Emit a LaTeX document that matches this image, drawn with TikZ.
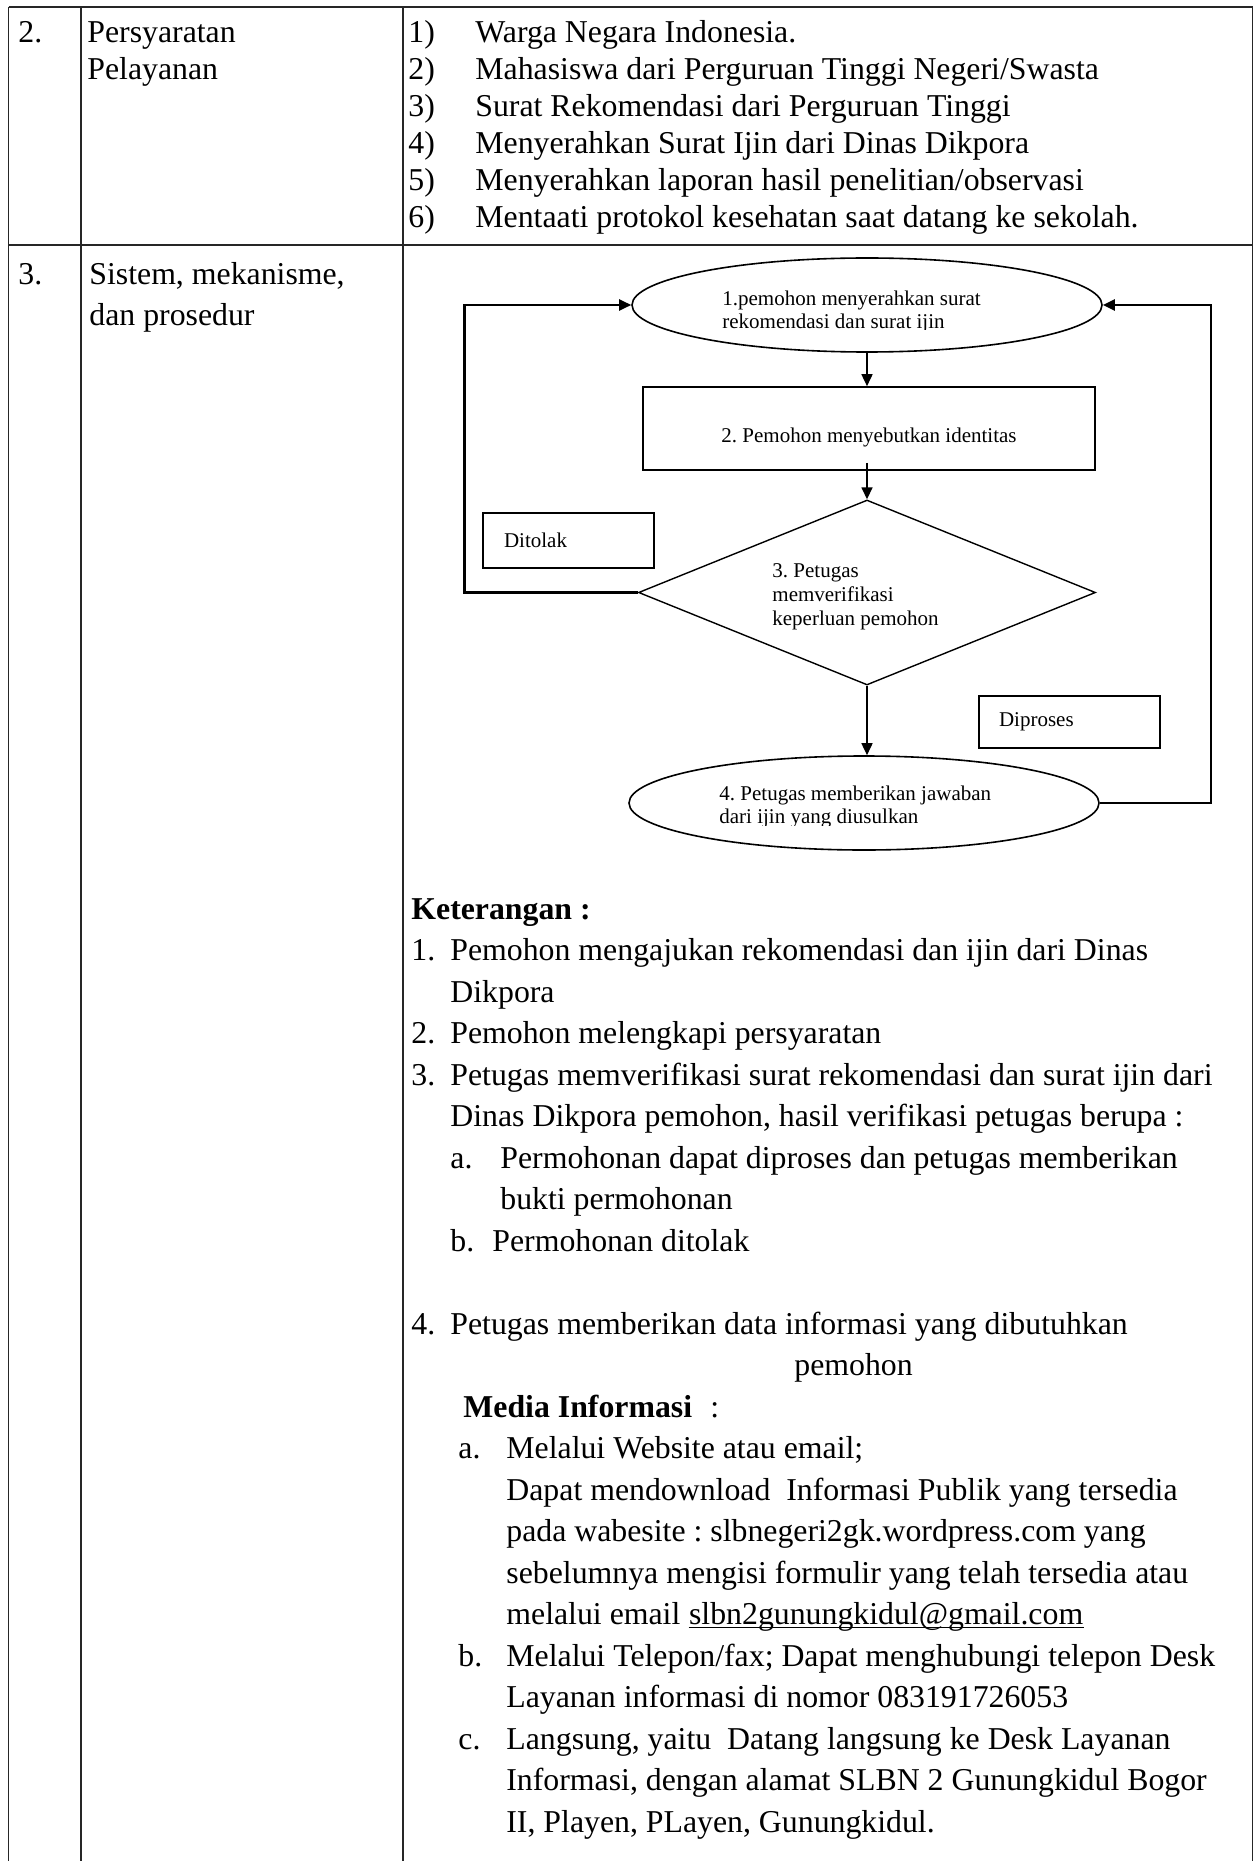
\documentclass[tikz,border=0pt]{standalone}
\usepackage{fontspec}
\setmainfont{Liberation Serif}
\usepackage{tikz}
\usetikzlibrary{shapes.geometric, arrows.meta, positioning}
\frenchspacing

\tikzset{
    garis/.style={line width=0.55pt, black!85},
    teks/.style={anchor=base west, inner sep=0pt, font=\fontsize{15.9}{18}\selectfont},
    kecil/.style={anchor=base west, inner sep=0pt, font=\fontsize{10.5}{12}\selectfont},
    elips/.style={ellipse, draw, line width=0.8pt, minimum width=235pt, minimum height=47pt, inner sep=0pt},
    kotak/.style={rectangle, draw, line width=0.8pt, inner sep=0pt, align=left, font=\fontsize{10.5}{12}\selectfont},
    belah/.style={diamond, draw, line width=0.7pt, minimum width=228.5pt, minimum height=92.5pt, inner sep=0pt},
    panah/.style={-{Triangle[length=6pt,width=5.5pt]}, line width=0.8pt},
    balik/.style={-{Triangle[length=6pt,width=5.5pt]}, line width=1.2pt}
}

\begin{document}
\begin{tikzpicture}[x=0.5pt, y=-0.5pt]
    \useasboundingbox (0,0) rectangle (1258,1861);

    % Garis tabel
    \draw[garis] (8.5,7) -- (1252.5,7);
    \draw[garis] (8.5,245) -- (1252.5,245);
    \draw[garis] (8.5,7) -- (8.5,1861);
    \draw[garis] (81,7) -- (81,1861);
    \draw[garis] (403,7) -- (403,1861);
    \draw[garis] (1252.5,7) -- (1252.5,1861);

    % Baris 2: persyaratan pelayanan
    \node[teks] (no2) at (18,43) {2.};
    \node[teks] (syarat) at (87,43) {Persyaratan};
    \node[teks] (syarat2) at (87,80) {Pelayanan};
    \node[teks] (s1n) at (408,43) {1)};
    \node[teks] (s1) at (475,43) {Warga Negara Indonesia.};
    \node[teks] (s2n) at (408,80) {2)};
    \node[teks] (s2) at (475,80) {Mahasiswa dari Perguruan Tinggi Negeri/Swasta};
    \node[teks] (s3n) at (408,117) {3)};
    \node[teks] (s3) at (475,117) {Surat Rekomendasi dari Perguruan Tinggi};
    \node[teks] (s4n) at (408,154) {4)};
    \node[teks] (s4) at (475,154) {Menyerahkan Surat Ijin dari Dinas Dikpora};
    \node[teks] (s5n) at (408,191) {5)};
    \node[teks] (s5) at (475,191) {Menyerahkan laporan hasil penelitian/observasi};
    \node[teks] (s6n) at (408,228) {6)};
    \node[teks] (s6) at (475,228) {Mentaati protokol kesehatan saat datang ke sekolah.};

    % Baris 3: sistem, mekanisme, dan prosedur
    \node[teks] (no3) at (18,285) {3.};
    \node[teks] (sistem) at (89,285) {Sistem, mekanisme,};
    \node[teks] (sistem2) at (89,326) {dan prosedur};

    % Bagan alur
    \node[elips] (mohon) at (867,305) {};
    \node[kotak, minimum width=226pt, minimum height=41.5pt, align=center, text height=14pt, text depth=0pt] (ident) at (869,428.5) {2. Pemohon menyebutkan identitas};
    \node[belah] (cek) at (867,592.5) {};
    \node[elips] (jawab) at (864,803) {};
    \node[kotak, minimum width=85.5pt, minimum height=27.5pt, text width=64.5pt, inner xsep=10.5pt] (tolak) at (568.5,540.5) {Ditolak};
    \node[kotak, minimum width=90.5pt, minimum height=26pt, text width=70.5pt, inner xsep=10pt] (proses) at (1069.5,722) {Diproses};

    % Teks di dalam elips (baris kedua terpotong)
    \begin{scope}
        \clip (700,270) rectangle (1010,330);
        \node[kecil] (mohon1) at (722,306) {1.pemohon menyerahkan surat};
        \node[kecil] (mohon2) at (722,329) {rekomendasi dan surat ijin};
    \end{scope}
    \begin{scope}
        \clip (700,770) rectangle (1010,825);
        \node[kecil] (jawab1) at (719,800) {4. Petugas memberikan jawaban};
        \node[kecil] (jawab2) at (719,823) {dari ijin yang diusulkan};
    \end{scope}
    \node[kecil] (cek1) at (772,577) {3. Petugas};
    \node[kecil] (cek2) at (772,601) {memverifikasi};
    \node[kecil] (cek3) at (772,625) {keperluan pemohon};

    % Panah
    \draw[panah] (mohon.south) -- (mohon.south |- ident.north);
    \draw[panah] ([yshift=4pt]cek.north |- ident.south) -- (cek.north);
    \draw[panah] (cek.south) -- (cek.south |- jawab.north);
    \draw[balik] (cek.west) -- ++(-173.5,0) |- (mohon.west);
    \draw[balik] (jawab.east) -- ++(111,0) |- (mohon.east);

    % Keterangan
    \node[teks, font=\fontsize{15.9}{18}\selectfont\bfseries] (ket) at (411,919) {Keterangan :};
    \node[teks] (k1n) at (411,960.5) {1.};
    \node[teks] (k1) at (450,960.5) {Pemohon mengajukan rekomendasi dan ijin dari Dinas};
    \node[teks] (k1b) at (450,1002) {Dikpora};
    \node[teks] (k2n) at (411,1043.5) {2.};
    \node[teks] (k2) at (450,1043.5) {Pemohon melengkapi persyaratan};
    \node[teks] (k3n) at (411,1085) {3.};
    \node[teks] (k3) at (450,1085) {Petugas memverifikasi surat rekomendasi dan surat ijin dari};
    \node[teks] (k3b) at (450,1126.5) {Dinas Dikpora pemohon, hasil verifikasi petugas berupa :};
    \node[teks] (k3an) at (450,1168) {a.};
    \node[teks] (k3a) at (500,1168) {Permohonan dapat diproses dan petugas memberikan};
    \node[teks] (k3a2) at (500,1209.5) {bukti permohonan};
    \node[teks] (k3bn) at (450,1251) {b.};
    \node[teks] (k3bb) at (492,1251) {Permohonan ditolak};
    \node[teks] (k4n) at (411,1334) {4.};
    \node[teks] (k4) at (450,1334) {Petugas memberikan data informasi yang dibutuhkan};
    \node[teks] (k4b) at (794,1375.5) {pemohon};

    % Media informasi
    \node[teks, font=\fontsize{15.9}{18}\selectfont\bfseries] (media) at (463,1417) {Media Informasi};
    \node[teks] (mediatitik) at (710,1417) {:};
    \node[teks] (man) at (458,1458.5) {a.};
    \node[teks] (ma1) at (506,1458.5) {Melalui Website atau email;};
    \node[teks] (ma2) at (506,1500) {Dapat mendownload\ \ Informasi Publik yang tersedia};
    \node[teks] (ma3) at (506,1541.5) {pada wabesite : slbnegeri2gk.wordpress.com yang};
    \node[teks] (ma4) at (506,1583) {sebelumnya mengisi formulir yang telah tersedia atau};
    \node[teks] (ma5) at (506,1624.5) {melalui email};
    \node[teks] (email) at ([xshift=3.98pt]ma5.base east) {slbn2gunungkidul@gmail.com};
    \draw[line width=0.7pt] ([yshift=-1.6pt]email.base west) -- ([yshift=-1.6pt]email.base east);
    \node[teks] (mbn) at (458,1666) {b.};
    \node[teks] (mb1) at (506,1666) {Melalui Telepon/fax; Dapat menghubungi telepon Desk};
    \node[teks] (mb2) at (506,1707.5) {Layanan informasi di nomor 083191726053};
    \node[teks] (mcn) at (458,1749) {c.};
    \node[teks] (mc1) at (506,1749) {Langsung, yaitu\ \ Datang langsung ke Desk Layanan};
    \node[teks] (mc2) at (506,1790.5) {Informasi, dengan alamat SLBN 2 Gunungkidul Bogor};
    \node[teks] (mc3) at (506,1832) {II, Playen, PLayen, Gunungkidul.};
\end{tikzpicture}
\end{document}
